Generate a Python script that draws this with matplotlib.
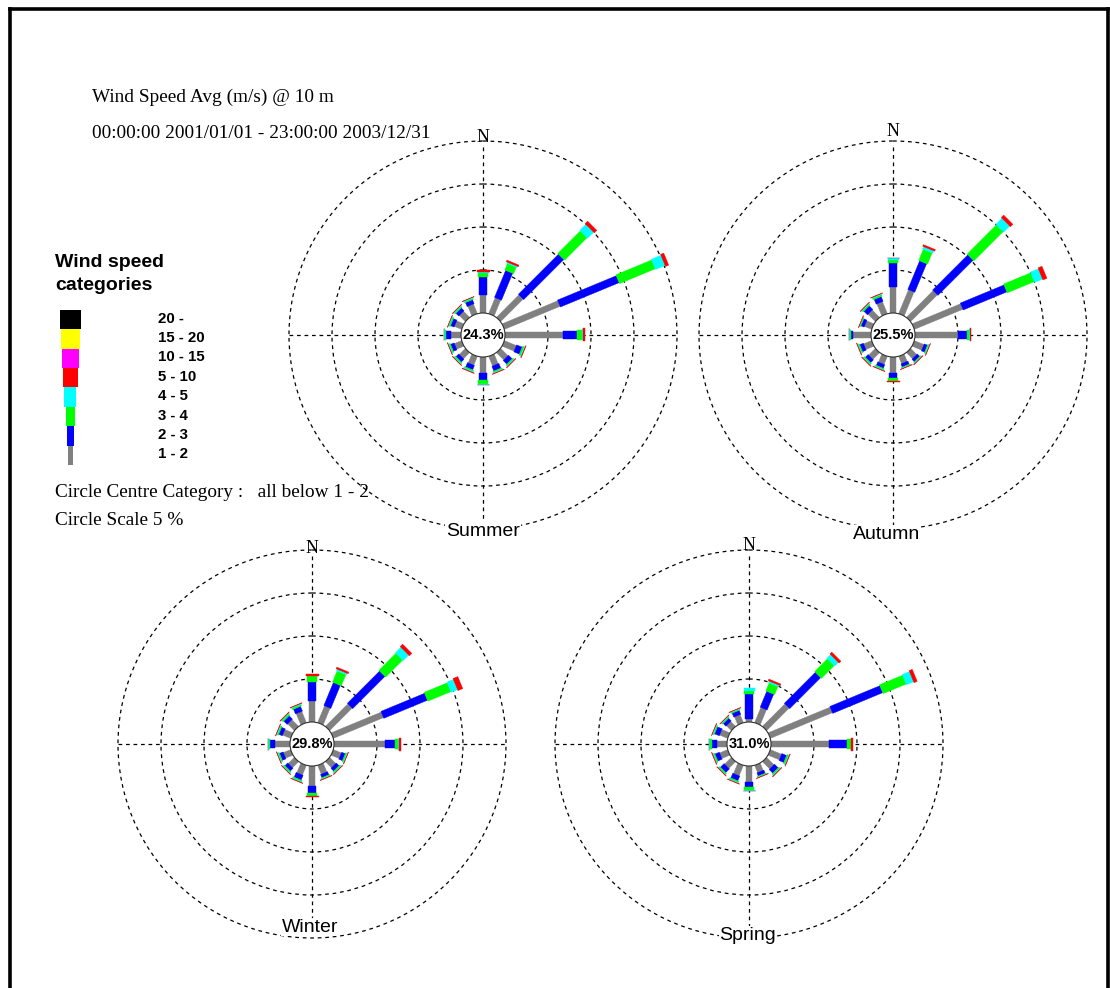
"""
Seasonal wind roses, wind speed avg @ 10 m.
"""

import numpy as np
import matplotlib
matplotlib.use("Agg")
import matplotlib.pyplot as plt
from matplotlib.patches import Polygon, Circle

# ---- data (percent of time) -------------------------------------------
directions = ["N", "NNE", "NE", "ENE", "E", "ESE", "SE", "SSE",
              "S", "SSW", "SW", "WSW", "W", "WNW", "NW", "NNW"]
angles = np.arange(16) * 22.5

categories = ["1 - 2", "2 - 3", "3 - 4", "4 - 5", "5 - 10", "10 - 15", "15 - 20", "20 -"]
cat_colors = ["#808080", "#0000ff", "#00ff00", "#00ffff", "#ff0000", "#ff00ff", "#ffff00", "#000000"]

seasons = ["Summer", "Autumn", "Winter", "Spring"]
centre_pct = [24.3, 25.5, 29.8, 31.0]

summer_gray  = [2.1, 2.0, 3.7, 7.0, 6.7, 1.5, 1.2, 1.2, 1.9, 1.1, 1.0, 0.9, 1.2, 0.9, 1.0, 1.2]
summer_blue  = [2.1, 3.4, 6.6, 7.4, 1.7, 0.7, 0.6, 0.6, 0.8, 0.55, 0.45, 0.45, 0.5, 0.45, 0.45, 0.5]
summer_green = [0.5, 0.8, 3.7, 4.5, 0.6, 0.2, 0.15, 0.15, 0.4, 0.15, 0.15, 0.15, 0.15, 0.15, 0.15, 0.15]
summer_cyan  = [0.1, 0.15, 1.0, 1.2, 0.1, 0.1, 0.1, 0.1, 0.1, 0.12, 0.1, 0.1, 0.08, 0.1, 0.1, 0.1]
summer_red   = [0.15, 0.2, 0.4, 0.4, 0.15, 0.06, 0.05, 0.05, 0.06, 0.06, 0.04, 0.03, 0.05, 0.03, 0.04, 0.03]

autumn_gray  = [3.0, 3.0, 4.4, 6.1, 5.0, 1.2, 1.0, 0.9, 1.86, 1.0, 1.1, 1.0, 2.1, 0.9, 1.2, 1.5]
autumn_blue  = [2.8, 3.6, 5.8, 5.5, 1.05, 0.4, 0.4, 0.4, 0.58, 0.45, 0.45, 0.45, 0.25, 0.4, 0.6, 0.6]
autumn_green = [0.35, 1.4, 4.8, 3.4, 0.25, 0.12, 0.1, 0.1, 0.3, 0.15, 0.15, 0.15, 0.12, 0.1, 0.15, 0.2]
autumn_cyan  = [0.2, 0.3, 1.0, 1.0, 0.1, 0.1, 0.08, 0.06, 0.06, 0.09, 0.1, 0.09, 0.05, 0.06, 0.1, 0.1]
autumn_red   = [0.05, 0.2, 0.4, 0.5, 0.15, 0.04, 0.05, 0.04, 0.1, 0.05, 0.06, 0.05, 0.04, 0.04, 0.05, 0.04]

winter_gray  = [2.4, 2.1, 3.7, 6.3, 5.9, 1.0, 1.0, 1.1, 2.3, 1.2, 1.0, 0.9, 1.74, 1.0, 1.1, 1.4]
winter_blue  = [2.3, 2.9, 5.3, 5.5, 1.2, 0.45, 0.45, 0.4, 0.8, 0.6, 0.45, 0.45, 0.58, 0.45, 0.55, 0.6]
winter_green = [0.6, 1.4, 2.8, 2.9, 0.35, 0.15, 0.15, 0.12, 0.35, 0.15, 0.15, 0.15, 0.15, 0.15, 0.18, 0.18]
winter_cyan  = [0.1, 0.2, 0.9, 0.8, 0.1, 0.1, 0.1, 0.08, 0.05, 0.1, 0.1, 0.1, 0.04, 0.1, 0.1, 0.1]
winter_red   = [0.15, 0.2, 0.4, 0.6, 0.2, 0.04, 0.04, 0.04, 0.1, 0.05, 0.04, 0.03, 0.05, 0.04, 0.05, 0.05]

spring_gray  = [0.35, 1.9, 3.7, 7.8, 6.8, 1.4, 1.2, 0.9, 1.86, 1.3, 1.1, 1.0, 1.2, 1.0, 0.8, 1.0]
spring_blue  = [2.9, 2.0, 5.1, 6.3, 2.0, 0.6, 0.6, 0.4, 0.6, 0.6, 0.6, 0.55, 0.6, 0.6, 0.45, 0.5]
spring_green = [0.35, 1.0, 2.1, 2.9, 0.45, 0.18, 0.15, 0.1, 0.35, 0.15, 0.15, 0.15, 0.15, 0.12, 0.12, 0.12]
spring_cyan  = [0.35, 0.2, 0.6, 0.9, 0.1, 0.1, 0.1, 0.06, 0.05, 0.1, 0.08, 0.1, 0.1, 0.1, 0.09, 0.08]
spring_red   = [0.0, 0.2, 0.3, 0.4, 0.15, 0.05, 0.05, 0.04, 0.1, 0.05, 0.05, 0.06, 0.05, 0.04, 0.04, 0.04]

season_data = [
    [summer_gray, summer_blue, summer_green, summer_cyan, summer_red],
    [autumn_gray, autumn_blue, autumn_green, autumn_cyan, autumn_red],
    [winter_gray, winter_blue, winter_green, winter_cyan, winter_red],
    [spring_gray, spring_blue, spring_green, spring_cyan, spring_red],
]

# ---- layout (pixels) ----------------------------------------------------
centres = [(483, 335), (893, 335), (312, 744), (749, 744)]
label_pos = [(483, 531), (887, 534), (310, 927), (748, 935)]
north_off = [197, 203, 196, 199]
R0 = 22.0            # centre circle radius
PX_PER_PCT = 43 / 5  # circle scale 5 %
seg_widths = [6, 7.5, 9.5, 11, 13]

SERIF = "Liberation Serif"
SANS = "Liberation Sans"

fig = plt.figure(figsize=(11.1, 9.88), dpi=100)
ax = fig.add_axes([0, 0, 1, 1])
ax.set_xlim(0, 1110)
ax.set_ylim(988, 0)
ax.axis("off")

# frame
ax.plot([9.5, 9.5], [988, 9.5], color="k", lw=2.6, solid_capstyle="projecting")
ax.plot([9.5, 1108], [9.5, 9.5], color="k", lw=2.6, solid_capstyle="projecting")
ax.plot([1108, 1108], [9.5, 988], color="k", lw=2.6, solid_capstyle="projecting")

dash = (0, (3, 3))


def rect(cx, cy, theta, r0, r1, w, color):
    u = np.array([np.sin(np.radians(theta)), -np.cos(np.radians(theta))])
    p = np.array([-u[1], u[0]])
    c = np.array([cx, cy])
    pts = [c + u * r0 + p * w / 2, c + u * r1 + p * w / 2,
           c + u * r1 - p * w / 2, c + u * r0 - p * w / 2]
    return Polygon(pts, closed=True, fc=color, ec=color, lw=0.3, zorder=3)


def draw_rose(cx, cy, data, pct, name, lpos, noff):
    R = R0 + 4 * 5 * PX_PER_PCT
    ax.plot([cx - R, cx + R], [cy, cy], color="k", lw=0.9, ls=dash, zorder=1)
    ax.plot([cx, cx], [cy - R + 6, min(cy + R - 4, lpos[1] - 9)], color="k",
            lw=0.9, ls=dash, zorder=1)
    for k in range(1, 5):
        ax.add_patch(Circle((cx, cy), R0 + k * 5 * PX_PER_PCT, fill=False,
                            ec="k", lw=0.9, ls=dash, zorder=1))
    for i, th in enumerate(angles):
        r = R0
        for j, series in enumerate(data):
            r1 = r + series[i] * PX_PER_PCT
            if r1 > r:
                ax.add_patch(rect(cx, cy, th, r, r1, seg_widths[j], cat_colors[j]))
            r = r1
    ax.add_patch(Circle((cx, cy), R0, fc="white", ec="#303030", lw=0.8, zorder=4))
    ax.text(cx, cy, f"{pct:.1f}%", ha="center", va="center", fontsize=10.5,
            fontweight="bold", family=SANS, zorder=5)
    ax.text(cx, cy - noff, "N", ha="center", va="center", fontsize=13, family=SERIF)
    ax.text(lpos[0], lpos[1], name, ha="center", va="center", fontsize=14,
            family=SANS, zorder=5,
            bbox=dict(fc="white", ec="none", pad=0.5))


for s in range(4):
    draw_rose(*centres[s], season_data[s], centre_pct[s], seasons[s],
              label_pos[s], north_off[s])

# ---- titles and legend --------------------------------------------------
ax.text(92, 97, "Wind Speed Avg (m/s) @ 10 m", fontsize=13.9, family=SERIF, va="center")
ax.text(92, 134, "00:00:00 2001/01/01 - 23:00:00 2003/12/31", fontsize=13.9,
        family=SERIF, va="center")

ax.text(55, 262, "Wind speed", fontsize=14, fontweight="bold", family=SANS, va="center")
ax.text(55, 285, "categories", fontsize=14, fontweight="bold", family=SANS, va="center")

leg_widths = [5, 7, 9, 12, 15, 17, 19, 21]
leg_bottom = 465
leg_h = 19.4
for j, (lab, col) in enumerate(zip(categories, cat_colors)):
    y1 = leg_bottom - j * leg_h
    y0 = y1 - leg_h
    w = leg_widths[j]
    ax.add_patch(plt.Rectangle((70 - w / 2, y0), w, leg_h, fc=col, ec="none"))
    ax.text(158, (y0 + y1) / 2 - 1, lab, fontsize=10.8, fontweight="bold",
            family=SANS, va="center")

ax.text(55, 492, "Circle Centre Category :   all below 1 - 2", fontsize=13.9,
        family=SERIF, va="center")
ax.text(55, 520, "Circle Scale 5 %", fontsize=13.9, family=SERIF, va="center")

plt.savefig("out.png", dpi=100, facecolor="white")
